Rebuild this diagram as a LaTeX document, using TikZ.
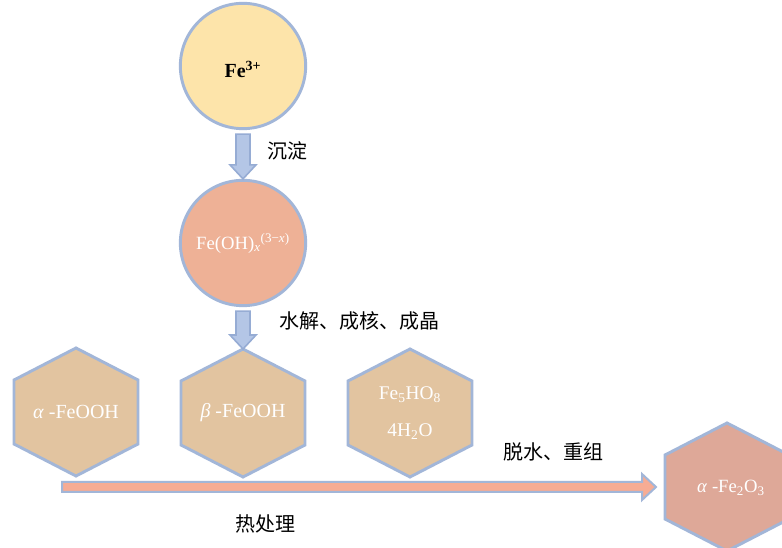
\documentclass[tikz,border=0pt]{standalone}
\usepackage{fontspec}
\setmainfont{Liberation Serif}
\newfontfamily\cjk{Noto Sans CJK SC}
\usetikzlibrary{calc}
\definecolor{bord}{RGB}{162,182,216}
\definecolor{fethree}{RGB}{253,228,170}
\definecolor{feoh}{RGB}{238,177,150}
\definecolor{hexfill}{RGB}{226,196,160}
\definecolor{oxfill}{RGB}{222,168,152}
\definecolor{varfill}{RGB}{180,198,230}
\definecolor{varbord}{RGB}{150,172,212}
\definecolor{harfill}{RGB}{246,172,148}
\newcommand\hexat[2]{\draw[hexline,fill=#2] ($(#1)+(0,-64)$) -- ++(62,32) -- ++(0,64) -- ++(-62,32) -- ++(-62,-32) -- ++(0,-64) -- cycle;}
\newcommand\vblock[2]{\draw[varrowst] ($(#1)+(-7,0)$) -- ($(#2)+(-7,-14)$) -- ($(#2)+(-13,-14)$) -- (#2) -- ($(#2)+(13,-14)$) -- ($(#2)+(7,-14)$) -- ($(#1)+(7,0)$) -- cycle;}
\begin{document}
\begin{tikzpicture}[x=0.75pt,y=-0.75pt,
  circ/.style={circle,draw=bord,line width=2.2pt,minimum size=94pt,inner sep=0pt},
  hexline/.style={draw=bord,line width=2.2pt,line join=miter},
  hextext/.style={text=white,font=\fontsize{15}{18}\selectfont,align=center},
  varrowst/.style={draw=varbord,fill=varfill,line width=1.2pt,line join=miter},
  harrowst/.style={draw=bord,fill=harfill,line width=1.5pt,line join=miter},
  lbl/.style={font=\cjk\fontsize{15}{18}\selectfont,text=black}]
\useasboundingbox (0,0) rectangle (782,548);
\clip (0,0) rectangle (782,548);
\fill[white] (0,0) rectangle (782,548);
% circles
\node[circ,fill=fethree] (fe3) at (243,66) {};
\node (fe3txt) at ($(fe3)+(0,3)$) {\fontsize{15}{18}\selectfont\bfseries Fe\textsuperscript{3+}};
\node[circ,fill=feoh] (feohx) at (243,243) {\fontsize{14}{17}\selectfont\color{white}Fe(OH)\textsubscript{\textit{x}}\textsuperscript{(3−\textit{x})}};
% hexagons
\coordinate (hA) at (76,412);
\coordinate (hB) at (243,413);
\coordinate (hC) at (410,413);
\coordinate (hD) at (727,487);
\hexat{hA}{hexfill}
\hexat{hB}{hexfill}
\hexat{hC}{hexfill}
\hexat{hD}{oxfill}
\node[hextext] (alpha) at (hA) {\textit{α} -FeOOH};
\node[hextext] (beta) at (hB) {\textit{β} -FeOOH};
\node[hextext,font=\fontsize{14.5}{28}\selectfont] (fivehy) at (hC) {Fe\textsubscript{5}HO\textsubscript{8}\\4H\textsubscript{2}O};
\node[hextext,font=\fontsize{14}{17}\selectfont] (hema) at ($(hD)+(4,1)$) {\textit{α} -Fe\textsubscript{2}O\textsubscript{3}};
% vertical arrows
\coordinate (a1s) at ($(fe3.south)+(0,4)$);
\coordinate (a2s) at ($(feohx.south)+(0,4)$);
\coordinate (hBtop) at ($(hB)+(0,-64)$);
\vblock{a1s}{feohx.north}
\vblock{a2s}{hBtop}
% horizontal arrow
\coordinate (hs) at (62,487);
\coordinate (he) at (656,487);
\draw[harrowst] ($(hs)+(0,-5)$) -- ($(he)+(-14,-5)$) -- ($(he)+(-14,-13)$) -- (he) -- ($(he)+(-14,13)$) -- ($(he)+(-14,5)$) -- ($(hs)+(0,5)$) -- cycle;
% labels
\node[lbl] (l1) at (287,151) {沉淀};
\node[lbl] (l2) at (359,321) {水解、成核、成晶};
\node[lbl] (l3) at (553,452) {脱水、重组};
\node[lbl] (l4) at (265,524) {热处理};
\end{tikzpicture}
\end{document}
